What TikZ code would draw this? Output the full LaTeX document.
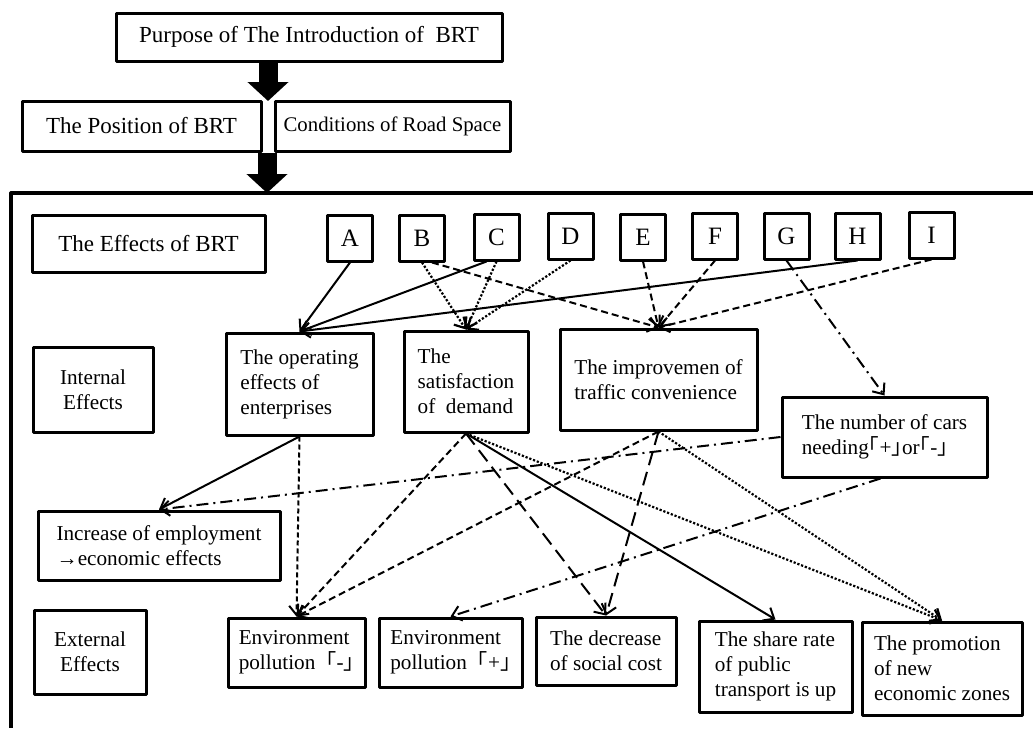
\documentclass[tikz,border=0pt]{standalone}
\usepackage{fontspec}
\setmainfont{Liberation Serif}
\newfontfamily\cjk{Noto Sans CJK JP}
\usetikzlibrary{arrows.meta}
\newcommand{\kagL}{{\cjk 「}}
\newcommand{\hkagL}{{\cjk ｢}}
\newcommand{\hkagR}{{\cjk ｣}}
\begin{document}
\begin{tikzpicture}[x=0.5pt,y=-0.5pt,line join=round,>={Straight Barb[length=4.5pt,width=7.5pt]},
	font=\fontsize{10.6}{12.5}\selectfont,
	box/.style={draw,line width=1.5pt,align=left,inner sep=0pt},
	topbox/.style={box,align=center,font=\fontsize{11.5}{13}\selectfont},
	letter/.style={box,minimum width=22.5pt,minimum height=23pt,font=\fontsize{12.5}{14}\selectfont},
	bigarrow/.style={line width=9.5pt,-{Triangle[width=20pt,length=9.5pt]}},
	solidarrow/.style={->,line width=1pt},
	dotarrow/.style={->,line width=1.1pt,dash pattern=on 1.1pt off 0.9pt},
	dasharrow/.style={->,line width=1pt,dash pattern=on 3.5pt off 2pt},
	shortarrow/.style={->,line width=1pt,dash pattern=on 2.5pt off 1.5pt},
	longarrow/.style={->,line width=1pt,dash pattern=on 7pt off 3.5pt},
	chainarrow/.style={->,line width=1pt,dash pattern=on 6pt off 2.5pt on 1pt off 2.5pt}]
	\useasboundingbox (0,0) rectangle (1033,728);
	% top part
	\node[topbox,minimum width=193pt,minimum height=24pt] (purpose) at (309,37) {Purpose of The Introduction of \ BRT};
	\node[topbox,minimum width=119.5pt,minimum height=25pt] (pos) at (141.5,126) {The Position of BRT};
	\node[topbox,minimum width=117.5pt,minimum height=25pt,font=\fontsize{10.4}{12}\selectfont] (cond) at (392.5,126) {Conditions of Road Space};
	\coordinate (gap) at (268,101);
	\coordinate (frametop) at (267,193);
	\draw[bigarrow] (purpose.south -| gap) -- (gap);
	\draw[bigarrow] (pos.south -| frametop) -- (frametop);
	\draw[line width=1.6pt] (1033,193) -| (11,728);
	% effects row
	\node[topbox,minimum width=116.5pt,minimum height=28.5pt] (effects) at (148.5,243.5) {The Effects of BRT};
	\node[letter] (A) at (350,238) {A};
	\node[letter] (B) at (422,238) {B};
	\node[letter] (C) at (496.5,237) {C};
	\node[letter] (D) at (570.5,236) {D};
	\node[letter] (E) at (643,237) {E};
	\node[letter] (F) at (715,236) {F};
	\node[letter] (G) at (786.5,236) {G};
	\node[letter] (H) at (857.5,236) {H};
	\node[letter] (I) at (931.5,235) {I};
	% internal effects
	\node[box,align=center,minimum width=60pt,minimum height=42.5pt] (internal) at (93,389.5) {Internal\\Effects};
	\node[box,minimum width=73.5pt,minimum height=51pt] (oper) at (299.5,384) {The operating\\effects of\\enterprises};
	\node[box,minimum width=62pt,minimum height=50.5pt] (satis) at (466,381.5) {The\\satisfaction\\of \ demand};
	\node[box,minimum width=98.5pt,minimum height=50.5pt] (impr) at (658.5,379.5) {The improvemen of\\traffic convenience};
	\node[box,minimum width=102.5pt,minimum height=40pt] (cars) at (884.5,437) {The number of cars\\needing\hkagL+\hkagR or\hkagL-\hkagR};
	\node[box,minimum width=121pt,minimum height=34.5pt] (employ) at (159,545.5) {Increase of employment\\→economic effects};
	% external effects
	\node[box,align=center,minimum width=56pt,minimum height=42pt] (external) at (90,652) {External\\Effects};
	\node[box,minimum width=68.5pt,minimum height=34.5pt] (envm) at (296.5,652.5) {Environment\\pollution\kagL-\hkagR};
	\node[box,minimum width=71.5pt,minimum height=34.5pt] (envp) at (450.5,652.5) {Environment\\pollution\kagL+\hkagR};
	\node[box,minimum width=70pt,minimum height=34pt] (decr) at (606,651) {The decrease\\of social cost};
	\node[box,minimum width=76.5pt,minimum height=45.5pt] (share) at (775.5,666.5) {The share rate\\of public\\transport is up};
	\node[box,minimum width=80pt,minimum height=46.5pt] (promo) at (942,668.5) {The promotion\\of new\\economic zones};
	% letters to internal effects
	\draw[solidarrow] (A.south) -- (oper.north);
	\draw[solidarrow] ([xshift=-5pt]C.south) -- (oper.north);
	\draw[solidarrow] (H.south) -- (oper.north);
	\draw[dotarrow] (B.south) -- (satis.north);
	\draw[dotarrow] (C.south) -- (satis.north);
	\draw[dotarrow] (D.south) -- (satis.north);
	\draw[dasharrow] ([xshift=5pt]B.south) -- (impr.north);
	\draw[dasharrow] (E.south) -- (impr.north);
	\draw[dasharrow] (F.south) -- (impr.north);
	\draw[dasharrow] (I.south) -- (impr.north);
	\draw[chainarrow] (G.south) -- (cars.north);
	% internal to external
	\draw[solidarrow] (oper.south) -- (employ.north);
	\draw[chainarrow] (cars.west) -- (employ.north);
	\draw[shortarrow] (oper.south) -- (envm.north);
	\draw[dasharrow] (satis.south) -- (envm.north);
	\draw[dasharrow] (impr.south) -- (envm.north);
	\draw[chainarrow] ([xshift=-2pt]cars.south) -- (envp.north);
	\draw[longarrow] (satis.south) -- (decr.north);
	\draw[longarrow] (impr.south) -- (decr.north);
	\draw[solidarrow] (satis.south) -- (share.north);
	\draw[dotarrow] (satis.south) -- (promo.north);
	\draw[dotarrow] (impr.south) -- (promo.north);
\end{tikzpicture}
\end{document}
